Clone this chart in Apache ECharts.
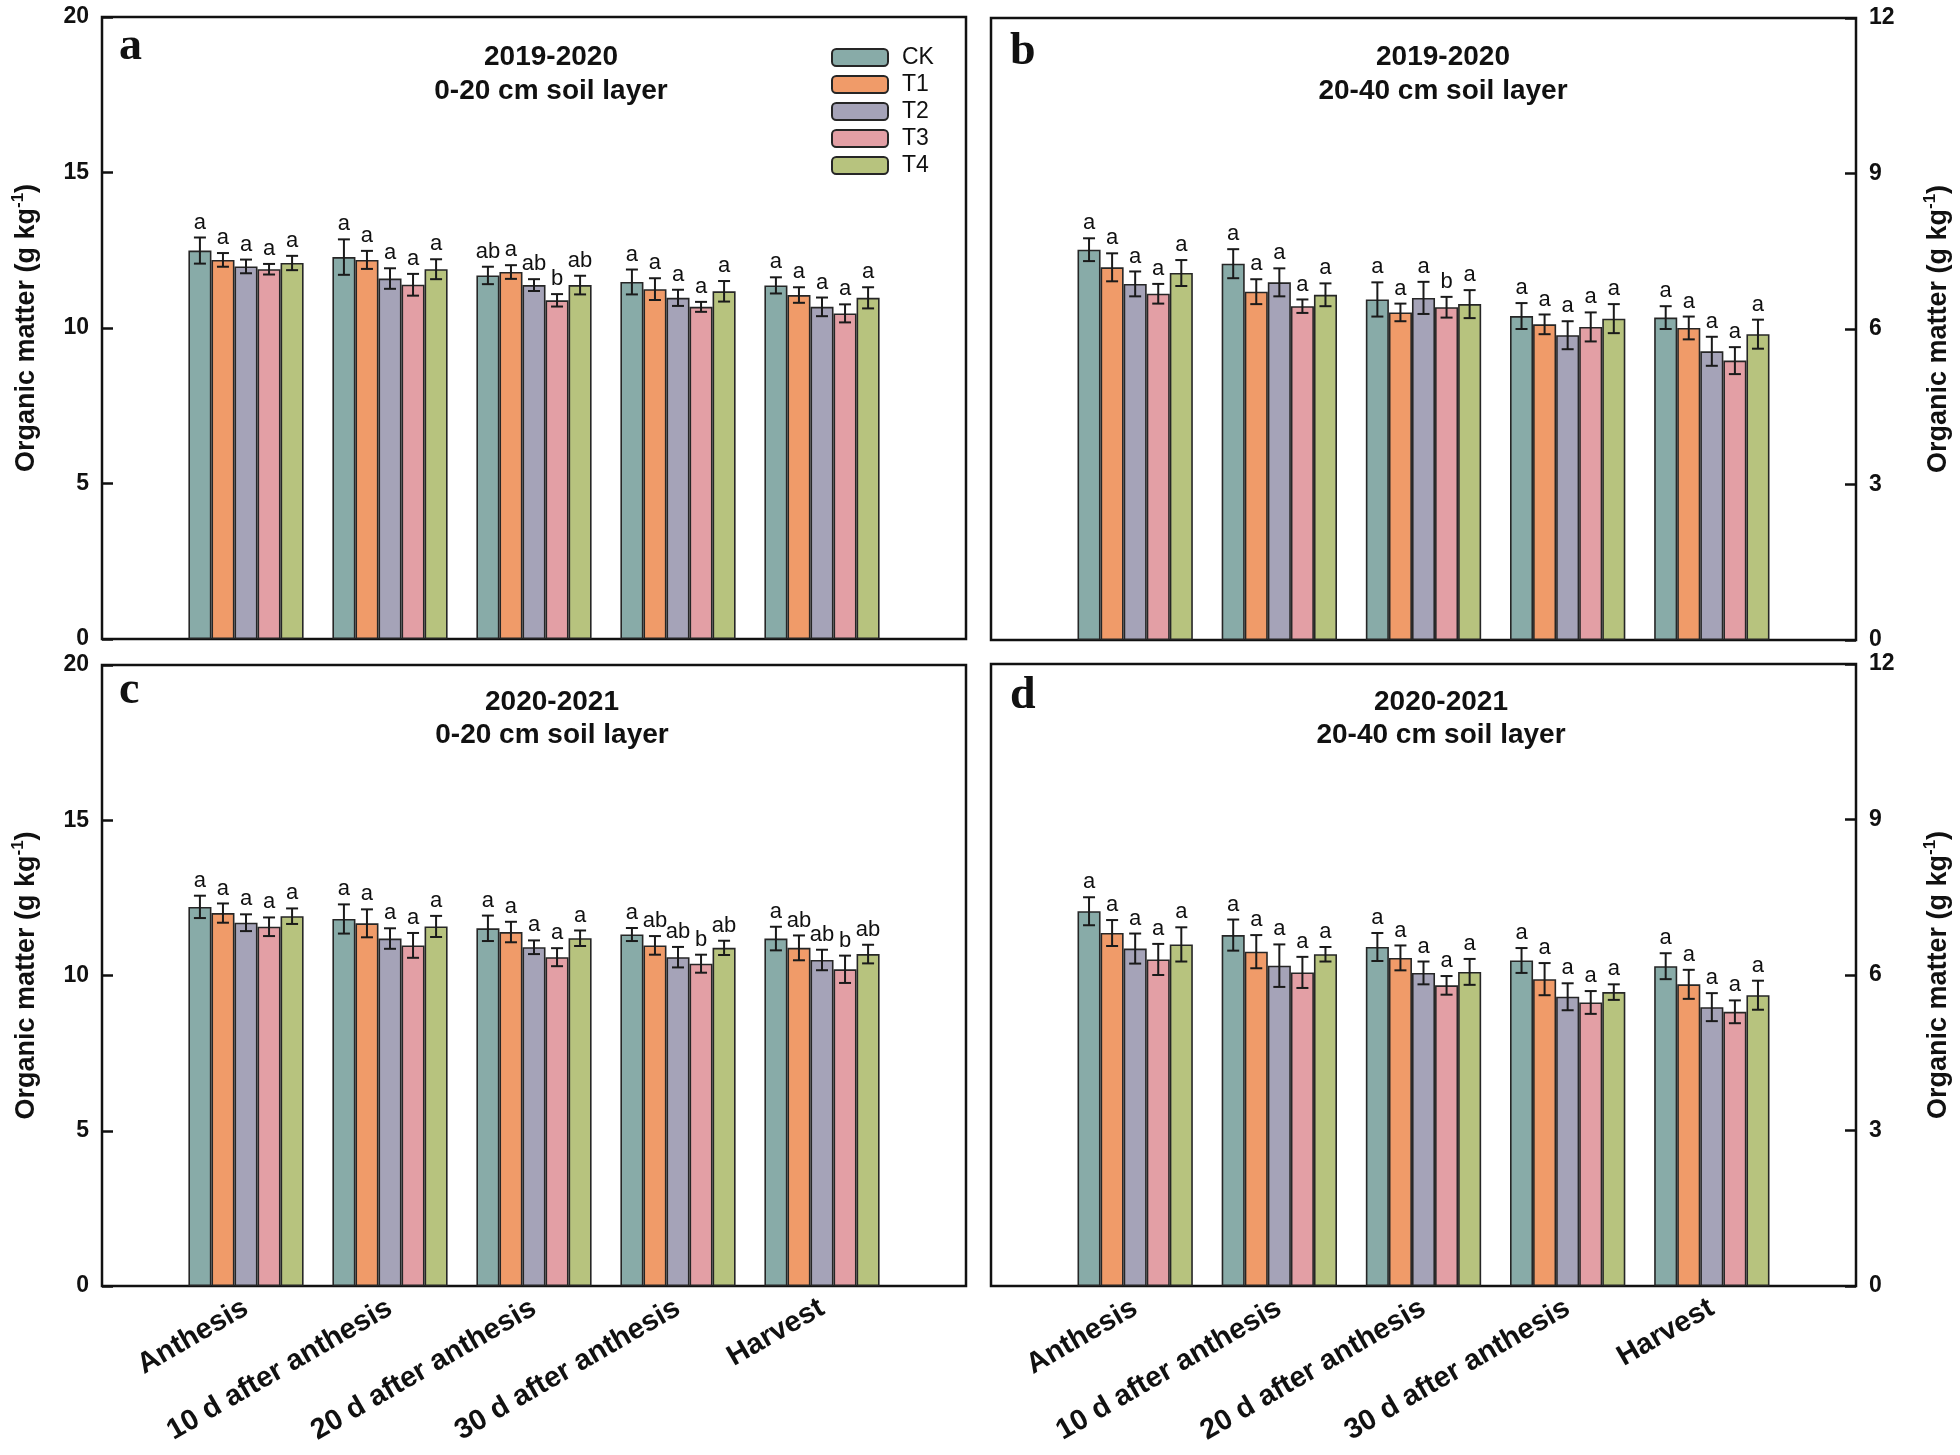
<!DOCTYPE html>
<html><head><meta charset="utf-8">
<script src="https://cdn.jsdelivr.net/npm/echarts@6/dist/echarts.min.js"></script>
<style>html,body{margin:0;padding:0;background:#fff}#c{width:1960px;height:1455px}</style>
</head><body><div id="c"></div>
<script>
const categories = ['Anthesis', '10 d after anthesis', '20 d after anthesis', '30 d after anthesis', 'Harvest'];
const treatments = ['CK', 'T1', 'T2', 'T3', 'T4'];
const colors = ['#88aba8', '#f09b69', '#a5a3b8', '#e39fa5', '#b7c37e'];
const yTicks20 = [0, 5, 10, 15, 20];
const yTicks12 = [0, 3, 6, 9, 12];

// Panel a: 2019-2020, 0-20 cm (rows: CK,T1,T2,T3,T4; cols: stages)
const meansA = [
  [12.49, 12.28, 11.69, 11.48, 11.37],
  [12.19, 12.19, 11.80, 11.25, 11.06],
  [11.98, 11.59, 11.38, 10.97, 10.68],
  [11.89, 11.39, 10.89, 10.68, 10.47],
  [12.09, 11.89, 11.38, 11.18, 10.97]
];
const seA = [
  [0.42, 0.57, 0.28, 0.40, 0.26],
  [0.22, 0.29, 0.22, 0.35, 0.25],
  [0.22, 0.33, 0.19, 0.26, 0.30],
  [0.17, 0.35, 0.20, 0.16, 0.29],
  [0.23, 0.32, 0.30, 0.33, 0.34]
];
const lettersA = [
  ['a', 'a', 'ab', 'a', 'a'],
  ['a', 'a', 'a', 'a', 'a'],
  ['a', 'a', 'ab', 'a', 'a'],
  ['a', 'a', 'b', 'a', 'a'],
  ['a', 'a', 'ab', 'a', 'a']
];

// Panel b: 2019-2020, 20-40 cm
const meansB = [
  [7.53, 7.26, 6.57, 6.25, 6.22],
  [7.19, 6.72, 6.32, 6.09, 6.02],
  [6.87, 6.90, 6.60, 5.88, 5.57],
  [6.68, 6.44, 6.42, 6.04, 5.39],
  [7.08, 6.66, 6.48, 6.20, 5.90]
];
const seB = [
  [0.22, 0.28, 0.33, 0.25, 0.22],
  [0.27, 0.24, 0.17, 0.19, 0.22],
  [0.24, 0.27, 0.31, 0.27, 0.28],
  [0.19, 0.13, 0.20, 0.28, 0.26],
  [0.25, 0.22, 0.27, 0.28, 0.28]
];
const lettersB = [
  ['a', 'a', 'a', 'a', 'a'],
  ['a', 'a', 'a', 'a', 'a'],
  ['a', 'a', 'a', 'a', 'a'],
  ['a', 'a', 'b', 'a', 'a'],
  ['a', 'a', 'a', 'a', 'a']
];

// Panel c: 2020-2021, 0-20 cm
const meansC = [
  [12.21, 11.82, 11.52, 11.32, 11.19],
  [12.01, 11.68, 11.40, 10.97, 10.89],
  [11.70, 11.19, 10.91, 10.59, 10.50],
  [11.57, 10.97, 10.59, 10.38, 10.20],
  [11.91, 11.58, 11.20, 10.89, 10.69]
];
const seC = [
  [0.36, 0.47, 0.41, 0.21, 0.38],
  [0.31, 0.45, 0.33, 0.30, 0.40],
  [0.27, 0.33, 0.22, 0.33, 0.33],
  [0.30, 0.40, 0.29, 0.29, 0.44],
  [0.25, 0.34, 0.25, 0.23, 0.30]
];
const lettersC = [
  ['a', 'a', 'a', 'a', 'a'],
  ['a', 'a', 'a', 'ab', 'ab'],
  ['a', 'a', 'a', 'ab', 'ab'],
  ['a', 'a', 'a', 'b', 'b'],
  ['a', 'a', 'a', 'ab', 'ab']
];

// Panel d: 2020-2021, 20-40 cm
const meansD = [
  [7.23, 6.77, 6.54, 6.28, 6.17],
  [6.81, 6.45, 6.33, 5.92, 5.82],
  [6.51, 6.18, 6.04, 5.58, 5.38],
  [6.30, 6.05, 5.80, 5.47, 5.29],
  [6.59, 6.40, 6.06, 5.67, 5.61]
];
const seD = [
  [0.27, 0.30, 0.27, 0.24, 0.25],
  [0.25, 0.32, 0.24, 0.31, 0.28],
  [0.29, 0.41, 0.22, 0.26, 0.27],
  [0.30, 0.30, 0.18, 0.22, 0.22],
  [0.33, 0.14, 0.25, 0.15, 0.28]
];
const lettersD = [
  ['a', 'a', 'a', 'a', 'a'],
  ['a', 'a', 'a', 'a', 'a'],
  ['a', 'a', 'a', 'a', 'a'],
  ['a', 'a', 'a', 'a', 'a'],
  ['a', 'a', 'a', 'a', 'a']
];

const yName = 'Organic matter (g kg';
const titlesYear = ['2019-2020', '2019-2020', '2020-2021', '2020-2021'];
const titlesLayer = ['0-20 cm soil layer', '20-40 cm soil layer', '0-20 cm soil layer', '20-40 cm soil layer'];
const panelLetters = ['a', 'b', 'c', 'd'];

const FONT = 'Liberation Sans';
const INK = '#111';
const BAR_FRAC = 0.16;

const panels = [
  { grid: { left: 102, top: 17, width: 864, height: 622 }, side: 'left', ticks: yTicks20, means: meansA, se: seA, letters: lettersA, showX: false,
    titleX: 551, titleY: [57, 91], letterPos: [119, 70] },
  { grid: { left: 991, top: 18, width: 865, height: 622 }, side: 'right', ticks: yTicks12, means: meansB, se: seB, letters: lettersB, showX: false,
    titleX: 1443, titleY: [57, 91], letterPos: [1010, 75] },
  { grid: { left: 102, top: 665, width: 864, height: 621 }, side: 'left', ticks: yTicks20, means: meansC, se: seC, letters: lettersC, showX: true,
    titleX: 552, titleY: [702, 735], letterPos: [119, 714] },
  { grid: { left: 991, top: 664, width: 865, height: 622 }, side: 'right', ticks: yTicks12, means: meansD, se: seD, letters: lettersD, showX: true,
    titleX: 1441, titleY: [702, 735], letterPos: [1010, 719] }
];

const grids = [], xAxes = [], yAxes = [], series = [], graphics = [];

panels.forEach(function (p, pi) {
  grids.push(Object.assign({ show: true, borderColor: INK, borderWidth: 2.5, backgroundColor: 'transparent' }, p.grid));
  xAxes.push({
    type: 'category', gridIndex: pi, data: [''].concat(categories, ['']), boundaryGap: false,
    axisLine: { show: false }, axisTick: { show: false }, splitLine: { show: false },
    axisLabel: { show: p.showX, interval: 0, rotate: 30, margin: 20, fontSize: 29, fontWeight: 'bold', fontFamily: FONT, color: INK }
  });
  const step = p.ticks[1] - p.ticks[0];
  yAxes.push({
    type: 'value', gridIndex: pi, position: p.side, min: p.ticks[0], max: p.ticks[p.ticks.length - 1], interval: step,
    axisLine: { show: false }, splitLine: { show: false },
    axisTick: { show: true, inside: true, length: 11, lineStyle: { color: INK, width: 2.5 } },
    axisLabel: { margin: 13, fontSize: 23, fontWeight: 'bold', fontFamily: FONT, color: INK },
    name: '{n|' + yName + '}{s|-1}{n|)}', nameLocation: 'middle', nameRotate: 90,
    nameGap: p.side === 'left' ? 58 : 66,
    nameTextStyle: {
      rich: {
        n: { fontSize: 27, fontWeight: 'bold', fontFamily: FONT, color: INK, lineHeight: 34 },
        s: { fontSize: 17, fontWeight: 'bold', fontFamily: FONT, color: INK, lineHeight: 18, verticalAlign: 'top' }
      }
    }
  });
  treatments.forEach(function (t, i) {
    series.push({
      type: 'bar', name: t, xAxisIndex: pi, yAxisIndex: pi, barWidth: (BAR_FRAC * 100) + '%', barGap: '0%',
      silent: true, z: 2,
      itemStyle: { color: colors[i], borderColor: '#262626', borderWidth: 1.6 },
      data: ['-'].concat(p.means[i], ['-'])
    });
  });
  treatments.forEach(function (t, i) {
    series.push({
      type: 'custom', name: 'err_' + pi + '_' + t, xAxisIndex: pi, yAxisIndex: pi, z: 5, silent: true,
      encode: { x: 0, y: 1 },
      data: p.means[i].map(function (m, k) { return [k + 1, m, p.se[i][k]]; }),
      renderItem: function (params, api) {
        const c = api.value(0), m = api.value(1), s = api.value(2);
        const bw = api.size([1, 0])[0] * BAR_FRAC;
        const x = api.coord([c, m])[0] + (i - 2) * bw;
        const yT = api.coord([c, m + s])[1];
        const yB = api.coord([c, m - s])[1];
        const cap = 6;
        const ls = { stroke: '#1a1a1a', lineWidth: 2 };
        return {
          type: 'group', children: [
            { type: 'line', shape: { x1: x, y1: yT, x2: x, y2: yB }, style: ls },
            { type: 'line', shape: { x1: x - cap, y1: yT, x2: x + cap, y2: yT }, style: ls },
            { type: 'line', shape: { x1: x - cap, y1: yB, x2: x + cap, y2: yB }, style: ls },
            { type: 'text', x: x, y: yT - 4, style: { text: p.letters[i][params.dataIndex], align: 'center', verticalAlign: 'bottom', fontSize: 22, fontFamily: FONT, fill: INK } }
          ]
        };
      }
    });
  });
  graphics.push({ type: 'text', x: p.titleX, y: p.titleY[0], z: 10, style: { text: titlesYear[pi], align: 'center', verticalAlign: 'middle', fontSize: 28, fontWeight: 'bold', fontFamily: FONT, fill: INK } });
  graphics.push({ type: 'text', x: p.titleX, y: p.titleY[1], z: 10, style: { text: titlesLayer[pi], align: 'center', verticalAlign: 'middle', fontSize: 28, fontWeight: 'bold', fontFamily: FONT, fill: INK } });
  graphics.push({ type: 'text', x: p.letterPos[0], y: p.letterPos[1], z: 10, style: { text: panelLetters[pi], align: 'left', verticalAlign: 'bottom', fontSize: 46, fontWeight: 'bold', fontFamily: 'Liberation Serif', fill: INK } });
});

const chart = echarts.init(document.getElementById('c'), null, { renderer: 'canvas' });
chart.setOption({
  animation: false,
  backgroundColor: '#fff',
  grid: grids, xAxis: xAxes, yAxis: yAxes, series: series,
  legend: {
    data: treatments, orient: 'vertical', left: 831, top: 46, itemWidth: 56, itemHeight: 17, itemGap: 4,
    selectedMode: false, padding: 0,
    textStyle: { fontSize: 23, fontFamily: FONT, color: INK, padding: [0, 0, 0, 9] }
  },
  graphic: graphics
});
</script></body></html>
